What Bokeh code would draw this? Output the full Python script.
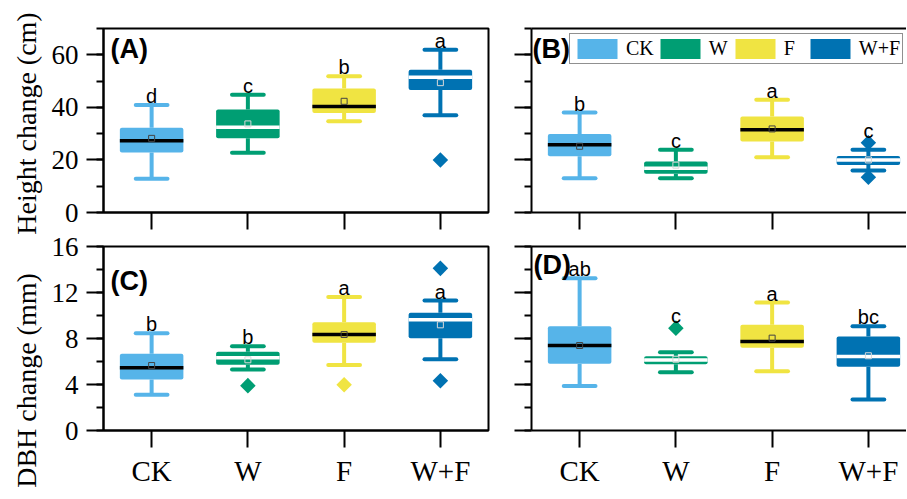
import numpy as np
from bokeh.plotting import figure
from bokeh.models import (Range1d, FixedTicker, SingleIntervalTicker, LinearAxis,
                          Legend, LegendItem, ColumnDataSource,
                          CustomJSTickFormatter)
from bokeh.layouts import column, row
from bokeh.core.properties import value
from bokeh.embed import file_html
from bokeh.resources import INLINE

categories = ["CK", "W", "F", "W+F"]
colors = ["#56B4E9", "#009E73", "#F0E442", "#0072B2"]

# (A) Height change (cm)
A_low = [12.8, 22.7, 34.7, 37.0]
A_q1 = [22.8, 28.2, 37.9, 46.6]
A_med = [27.3, 32.4, 40.3, 51.5]
A_q3 = [32.2, 39.2, 47.2, 54.3]
A_high = [40.9, 44.8, 51.8, 61.9]
A_mean = [28.2, 33.7, 42.3, 49.4]
A_out = [[], [], [], [20.0]]
A_sig = ["d", "c", "b", "a"]

# (B) Height change (cm)
B_low = [13.0, 13.0, 21.0, 16.0]
B_q1 = [21.4, 14.7, 27.0, 18.1]
B_med = [25.8, 16.8, 31.5, 20.0]
B_q3 = [29.9, 19.4, 36.5, 21.5]
B_high = [38.0, 23.9, 42.9, 23.9]
B_mean = [25.2, 18.0, 31.8, 20.0]
B_out = [[], [], [], [26.5, 13.4]]
B_sig = ["b", "c", "a", "c"]

# (C) DBH change (mm)
C_low = [3.1, 5.3, 5.7, 6.2]
C_q1 = [4.43, 5.71, 7.62, 8.03]
C_med = [5.45, 6.32, 8.35, 9.62]
C_q3 = [6.67, 6.84, 9.42, 10.23]
C_high = [8.46, 7.33, 11.6, 11.3]
C_mean = [5.65, 6.15, 8.35, 9.19]
C_out = [[], [3.9], [3.97], [14.1, 4.32]]
C_sig = ["b", "b", "a", "a"]

# (D) DBH change (mm)
D_low = [3.88, 5.07, 5.16, 2.7]
D_q1 = [5.8, 5.77, 7.19, 5.54]
D_med = [7.39, 6.14, 7.74, 6.43]
D_q3 = [9.07, 6.46, 9.19, 8.17]
D_high = [13.25, 6.81, 11.13, 9.07]
D_mean = [7.39, 6.2, 8.03, 6.5]
D_out = [[], [8.9], [], []]
D_sig = ["ab", "c", "a", "bc"]

y_titles = ["Height change (cm)", "DBH change (mm)"]

SERIF = "Liberation Serif"
SANS = "Liberation Sans"
UNIT_PX = 96.25
FRAME_H = 184
TOTAL_H = 498


def lum(h):
    r, g, b = (int(h[i:i + 2], 16) for i in (1, 3, 5))
    return 0.299 * r + 0.587 * g + 0.114 * b


def style_axis(ax, tick_out):
    ax.axis_line_width = 2
    ax.axis_line_color = "black"
    ax.major_tick_line_width = 2
    ax.minor_tick_line_width = 2
    ax.major_tick_in = 0
    ax.minor_tick_in = 0
    ax.major_tick_out = tick_out
    ax.minor_tick_out = 7
    ax.major_label_text_color = "black"
    ax.major_label_text_font = SERIF


def panel(tag, low, q1, med, q3, high, mean, outs, sig, ymax, major,
          left_labels, bottom_labels, frame_w, bl, br, bt, bb, closed,
          tag_dx, tag_dy):
    xs = list(range(1, len(categories) + 1))
    xend = 0.5 + frame_w / UNIT_PX
    p = figure(frame_width=frame_w, frame_height=FRAME_H,
               x_range=Range1d(0.5, xend), y_range=Range1d(0, ymax),
               output_backend="svg", toolbar_location=None,
               min_border_left=bl, min_border_right=br,
               min_border_top=bt, min_border_bottom=bb,
               background_fill_color="white", border_fill_color="white")
    p.xgrid.visible = False
    p.ygrid.visible = False

    xax = p.below[0]
    yax = p.left[0]
    style_axis(xax, 17)
    style_axis(yax, 17)
    xax.ticker = FixedTicker(ticks=xs)
    yax.ticker = SingleIntervalTicker(interval=major, num_minor_ticks=2)
    if bottom_labels:
        xax.major_label_overrides = {x: c for x, c in zip(xs, categories)}
        xax.major_label_text_font_size = "29px"
        xax.major_label_standoff = 7
    else:
        xax.formatter = CustomJSTickFormatter(code="return ''")
        xax.major_label_text_font_size = "2px"
        xax.major_label_standoff = 0
    if left_labels:
        yax.major_label_text_font_size = "27px"
        yax.major_label_standoff = 8
    else:
        yax.formatter = CustomJSTickFormatter(code="return ''")
        yax.major_label_text_font_size = "2px"
        yax.major_label_standoff = 0

    if closed:
        p.outline_line_color = "black"
        p.outline_line_width = 2
    else:
        p.outline_line_color = None
        top = LinearAxis(ticker=FixedTicker(ticks=[]), axis_line_width=2,
                         axis_line_color="black",
                         major_tick_out=0, minor_tick_out=0,
                         major_tick_in=0, minor_tick_in=0,
                         major_label_text_font_size="2px",
                         major_label_standoff=0)
        p.add_layout(top, "above")

    med_c = ["black" if lum(c) > 150 else "white" for c in colors]
    mean_c = ["#444444" if lum(c) > 150 else "#d8d8d8" for c in colors]
    half_box = 0.33
    half_cap = 0.165
    src = ColumnDataSource(dict(
        x=xs, low=low, q1=q1, med=med, q3=q3, high=high, mean=mean,
        color=colors, mc=med_c, meanc=mean_c,
        bl=[x - half_box for x in xs], br=[x + half_box for x in xs],
        cl=[x - half_cap for x in xs], cr=[x + half_cap for x in xs]))

    p.segment(x0="x", y0="q3", x1="x", y1="high", line_color="color",
              line_width=4, source=src)
    p.segment(x0="x", y0="q1", x1="x", y1="low", line_color="color",
              line_width=4, source=src)
    p.segment(x0="cl", y0="high", x1="cr", y1="high", line_color="color",
              line_width=4, line_cap="round", source=src)
    p.segment(x0="cl", y0="low", x1="cr", y1="low", line_color="color",
              line_width=4, line_cap="round", source=src)
    boxes = p.vbar(x="x", width=2 * half_box, bottom="q1", top="q3",
                   fill_color="color", line_color=None, border_radius=2,
                   source=src)
    p.segment(x0="bl", y0="med", x1="br", y1="med", line_color="mc",
              line_width=3.5, source=src)
    p.scatter(x="x", y="mean", marker="square", size=6, fill_color=None,
              line_color="meanc", line_width=1, source=src)

    ox, oy, oc = [], [], []
    for x, vals, c in zip(xs, outs, colors):
        for v in vals:
            ox.append(x)
            oy.append(v)
            oc.append(c)
    p.scatter(x=ox, y=oy, marker="square", angle=np.pi / 4, size=11,
              fill_color=oc, line_color=None)

    # significance letters: above the whisker, or above a near outlier
    anchor, dy = [], []
    for h, vals in zip(high, outs):
        above = [v for v in vals if h < v < 0.8 * ymax]
        if above:
            anchor.append(max(above))
            dy.append(-12)
        else:
            anchor.append(h)
            dy.append(-9)
    p.text(x=xs, y=anchor, text=sig, y_offset=dy, text_align="center",
           text_baseline="alphabetic", text_font=value(SANS),
           text_font_size=value("20px"), text_color="black")

    p.text(x=[0.5], y=[ymax], text=[tag], x_offset=tag_dx, y_offset=tag_dy,
           text_align="left", text_baseline="middle", text_font=value(SANS),
           text_font_style="bold", text_font_size=value("27px"),
           text_color="black")
    return p, boxes


pA, _ = panel("(A)", A_low, A_q1, A_med, A_q3, A_high, A_mean, A_out, A_sig,
              70, 20, True, False, 385, 58, 5, 28, 19, True, 7, 20)
pB, boxesB = panel("(B)", B_low, B_q1, B_med, B_q3, B_high, B_mean, B_out,
                   B_sig, 70, 20, False, False, 375, 38, 0, 28, 19, False,
                   1, 20)
pC, _ = panel("(C)", C_low, C_q1, C_med, C_q3, C_high, C_mean, C_out, C_sig,
              16, 4, True, True, 385, 58, 5, 15, 68, True, 7, 34)
pD, _ = panel("(D)", D_low, D_q1, D_med, D_q3, D_high, D_mean, D_out, D_sig,
              16, 4, False, True, 375, 38, 0, 15, 68, False, 2, 18)

# narrow strip on the left that carries the two rotated axis titles
pT = figure(width=45, height=TOTAL_H, x_range=Range1d(0, 45),
            y_range=Range1d(0, TOTAL_H), x_axis_type=None, y_axis_type=None,
            output_backend="svg", toolbar_location=None, min_border=0,
            outline_line_color=None, background_fill_color="white",
            border_fill_color="white")
pT.xgrid.visible = False
pT.ygrid.visible = False
title_centres_from_top = [123, 380]
pT.text(x=[26, 26], y=[TOTAL_H - c for c in title_centres_from_top],
        text=y_titles, angle=np.pi / 2, text_align="center",
        text_baseline="middle", text_font=value(SERIF),
        text_font_size=value("28px"), text_color="black")

legend = Legend(
    items=[LegendItem(label=c, renderers=[boxesB], index=i)
           for i, c in enumerate(categories)],
    orientation="horizontal", location=(38, 148), glyph_width=50,
    glyph_height=25, label_standoff=4, spacing=1, padding=2, margin=0,
    border_line_color="#222222", border_line_width=1.5,
    label_text_font=SERIF, label_text_font_size="20px",
    label_text_color="black", background_fill_color="white",
    background_fill_alpha=1.0)
pB.add_layout(legend)

grid = column(row(pA, pB, spacing=0), row(pC, pD, spacing=0), spacing=0)
layout = row(pT, grid, spacing=0)

open("out.html", "w").write(file_html(layout, INLINE))
